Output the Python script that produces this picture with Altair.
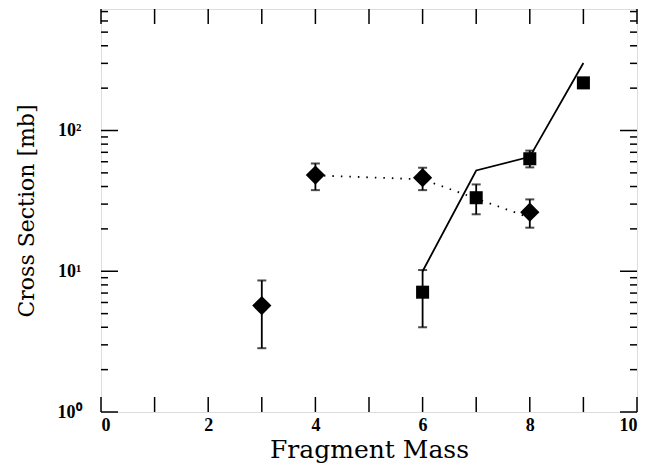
import altair as alt
import pandas as pd

# ---- data ----
sq_x = [6, 7, 8, 9]
sq_y = [7.1, 33.3, 63, 218]
sq_lo = [4.0, 25.4, 54.7, 218]
sq_hi = [10.2, 41.4, 72, 218]

di_x = [3, 4, 6, 8]
di_y = [5.7, 48.2, 46.2, 26.3]
di_lo = [2.84, 37.7, 37.7, 20.4]
di_hi = [8.6, 58.3, 54.4, 32.4]

calc_x = [6, 7, 8, 9]
calc_y = [10, 52, 65, 302]

dot_x = [4, 6, 8]
dot_y = [48, 45, 24]

x_ticks = list(range(0, 11))
x_labels = [0, 2, 4, 6, 8, 10]
y_major = [1, 10, 100]
y_minor = [m * d for d in (1, 10, 100) for m in range(2, 10) if m * d <= 700]

W, H = 536, 403

xs = alt.Scale(domain=[0, 10], nice=False, zero=False)
ys = alt.Scale(type="log", domain=[1, 730], nice=False)

xaxis = alt.Axis(values=x_labels, tickSize=0, domain=False, grid=False,
                 labelFont="Liberation Serif", labelFontWeight="bold", labelFontSize=18,
                 labelPadding=4, titleFont="DejaVu Serif", titleFontWeight="normal",
                 titleFontSize=25, titlePadding=3, labelColor="black", titleColor="black")
yaxis = alt.Axis(values=y_major, tickSize=0, domain=False, grid=False,
                 labelExpr="datum.value == 1 ? '10⁰' : datum.value == 10 ? '10¹' : '10²'",
                 labelFont="Liberation Serif", labelFontWeight="bold", labelFontSize=18,
                 labelPadding=20, titleFont="DejaVu Serif", titleFontWeight="normal",
                 titleFontSize=22, titlePadding=19, labelColor="black", titleColor="black")

def X(f):
    return alt.X(f, type="quantitative", scale=xs, axis=xaxis, title="Fragment Mass")

def Y(f):
    return alt.Y(f, type="quantitative", scale=ys, axis=yaxis, title="Cross Section [mb]")

sq = pd.DataFrame({"x": sq_x, "y": sq_y, "lo": sq_lo, "hi": sq_hi})
di = pd.DataFrame({"x": di_x, "y": di_y, "lo": di_lo, "hi": di_hi})
calc = pd.DataFrame({"x": calc_x, "y": calc_y})
dot = pd.DataFrame({"x": dot_x, "y": dot_y})
xt = pd.DataFrame({"x": x_ticks})
ymaj = pd.DataFrame({"y": y_major})
ymin = pd.DataFrame({"y": y_minor})

layers = []
# tick marks inside the frame
for y0, y1 in ((H, H - 15), (0, 15)):
    layers.append(alt.Chart(xt).mark_rule(color="black", strokeWidth=1.5).encode(
        x=X("x"), y=alt.value(y0), y2=alt.value(y1)))
for df, ln in ((ymaj, 17), (ymin, 7)):
    for x0, x1 in ((0, ln), (W, W - ln)):
        layers.append(alt.Chart(df).mark_rule(color="black", strokeWidth=1.5).encode(
            y=Y("y"), x=alt.value(x0), x2=alt.value(x1)))

# lines
layers.append(alt.Chart(calc).mark_line(color="black", strokeWidth=1.8).encode(x=X("x"), y=Y("y")))
layers.append(alt.Chart(dot).mark_line(color="black", strokeWidth=1.8, strokeDash=[1.5, 7]).encode(
    x=X("x"), y=Y("y")))

# error bars
for df in (sq, di):
    layers.append(alt.Chart(df).mark_rule(color="black", strokeWidth=1.8).encode(
        x=X("x"), y=Y("lo"), y2="hi"))
    for f in ("lo", "hi"):
        layers.append(alt.Chart(df).mark_tick(color="black", orient="horizontal", size=9,
                                              thickness=2).encode(x=X("x"), y=Y(f)))

# markers
layers.append(alt.Chart(sq).mark_point(shape="square", filled=True, color="black", opacity=1,
                                       size=170).encode(x=X("x"), y=Y("y")))
layers.append(alt.Chart(di).mark_point(shape="diamond", filled=True, color="black", opacity=1,
                                       size=370).encode(x=X("x"), y=Y("y")))

chart = alt.layer(*layers).properties(
    width=W, height=H,
    autosize=alt.AutoSizeParams(type="none"),
    padding={"left": 93, "top": 1, "right": 10, "bottom": 54},
).configure_view(stroke="black", strokeWidth=1.8).configure(background="white")

chart.save("out.html", embed_options={"renderer": "svg", "actions": False})
